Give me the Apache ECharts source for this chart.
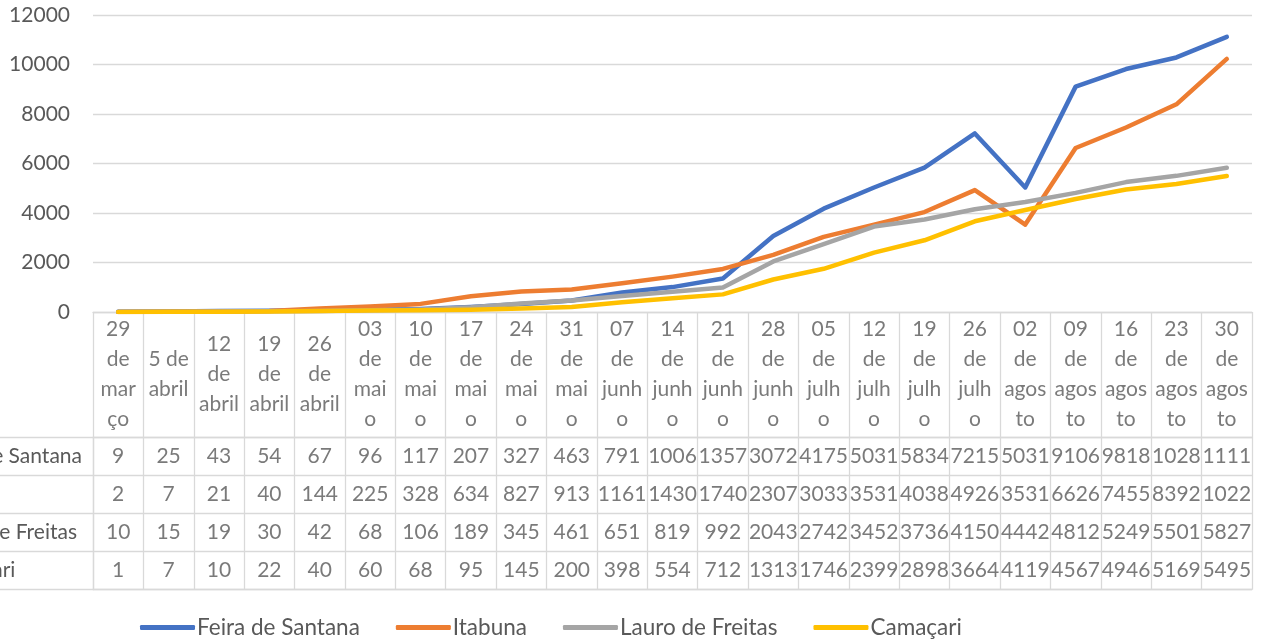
<!DOCTYPE html>
<html>
<head>
<meta charset="utf-8">
<script src="https://cdn.jsdelivr.net/npm/echarts@6/dist/echarts.min.js"></script>
<style>html,body{margin:0;padding:0;background:#fff}#c{width:1264px;height:639px}</style>
</head>
<body>
<div id="c"></div>
<script>
// Category (tick) labels, wrapped as in the reference data table
const categories = [
  "29\nde\nmar\nço", "5 de\nabril", "12\nde\nabril", "19\nde\nabril", "26\nde\nabril",
  "03\nde\nmai\no", "10\nde\nmai\no", "17\nde\nmai\no", "24\nde\nmai\no", "31\nde\nmai\no",
  "07\nde\njunh\no", "14\nde\njunh\no", "21\nde\njunh\no", "28\nde\njunh\no",
  "05\nde\njulh\no", "12\nde\njulh\no", "19\nde\njulh\no", "26\nde\njulh\no",
  "02\nde\nagos\nto", "09\nde\nagos\nto", "16\nde\nagos\nto", "23\nde\nagos\nto", "30\nde\nagos\nto"
];
const seriesNames = ["Feira de Santana", "Itabuna", "Lauro de Freitas", "Camaçari"];
const feiraDeSantana = [9, 25, 43, 54, 67, 96, 117, 207, 327, 463, 791, 1006, 1357, 3072, 4175, 5031, 5834, 7215, 5031, 9106, 9818, 10285, 11115];
const itabuna = [2, 7, 21, 40, 144, 225, 328, 634, 827, 913, 1161, 1430, 1740, 2307, 3033, 3531, 4038, 4926, 3531, 6626, 7455, 8392, 10225];
const lauroDeFreitas = [10, 15, 19, 30, 42, 68, 106, 189, 345, 461, 651, 819, 992, 2043, 2742, 3452, 3736, 4150, 4442, 4812, 5249, 5501, 5827];
const camacari = [1, 7, 10, 22, 40, 60, 68, 95, 145, 200, 398, 554, 712, 1313, 1746, 2399, 2898, 3664, 4119, 4567, 4946, 5169, 5495];
const yTicks = [0, 2000, 4000, 6000, 8000, 10000, 12000];

const values = [feiraDeSantana, itabuna, lauroDeFreitas, camacari];
const colors = ["#4472C4", "#ED7D31", "#A5A5A5", "#FFC000"];
const FONT = "Lato";
const TXT = "#595959";
const GRID = "#D9D9D9";

const chart = echarts.init(document.getElementById('c'), null, {renderer: 'canvas'});

const lineSeries = seriesNames.map((name, k) => ({
  name: name, type: 'line', xAxisIndex: 0, yAxisIndex: 0,
  data: values[k], showSymbol: false, symbol: 'none', smooth: false,
  color: colors[k],
  lineStyle: {color: colors[k], width: 4.5, cap: 'round', join: 'round'}
}));

const headerSeries = {
  type: 'scatter', xAxisIndex: 1, yAxisIndex: 1, silent: true, symbolSize: 0,
  data: categories.map((c, i) => [i, 0.5]),
  label: {show: true, position: 'inside', color: TXT, fontFamily: FONT, fontSize: 21, lineHeight: 30,
    align: 'center', verticalAlign: 'middle',
    formatter: p => categories[p.dataIndex]}
};

const bodySeries = values.map((arr, k) => ({
  type: 'scatter', xAxisIndex: 2, yAxisIndex: 2, silent: true, symbolSize: 0,
  data: arr.map((v, i) => [i, k, v]),
  label: {show: true, position: 'inside', color: TXT, fontFamily: FONT, fontSize: 21,
    align: 'center', verticalAlign: 'middle', width: 50, overflow: 'truncate', ellipsis: '',
    formatter: p => String(p.value[2])}
}));

const gridBase = {left: 93, right: 12, containLabel: false, outerBoundsMode: 'none'};

chart.setOption({
  animation: false,
  backgroundColor: '#fff',
  textStyle: {fontFamily: FONT},
  grid: [
    Object.assign({top: 15, bottom: 327}, gridBase),
    Object.assign({top: 312, bottom: 202}, gridBase),
    Object.assign({top: 437, bottom: 49.5}, gridBase)
  ],
  xAxis: [
    {type: 'category', gridIndex: 0, data: categories, boundaryGap: true,
      axisLine: {show: true, lineStyle: {color: GRID, width: 1.3}},
      axisTick: {show: false}, axisLabel: {show: false}, splitLine: {show: false}},
    {type: 'category', gridIndex: 1, data: categories, boundaryGap: true,
      axisLine: {show: true, lineStyle: {color: GRID, width: 1.3}},
      axisTick: {show: false}, axisLabel: {show: false},
      splitLine: {show: true, lineStyle: {color: GRID, width: 1.3}}},
    {type: 'category', gridIndex: 2, data: categories, boundaryGap: true,
      axisLine: {show: true, lineStyle: {color: GRID, width: 1.3}},
      axisTick: {show: false}, axisLabel: {show: false},
      splitLine: {show: true, lineStyle: {color: GRID, width: 1.3}}}
  ],
  yAxis: [
    {type: 'value', gridIndex: 0, min: yTicks[0], max: yTicks[yTicks.length - 1], interval: yTicks[1] - yTicks[0],
      axisLine: {show: false}, axisTick: {show: false},
      axisLabel: {color: TXT, fontFamily: FONT, fontSize: 21, margin: 23, formatter: v => String(v)},
      splitLine: {show: true, lineStyle: {color: GRID, width: 1.3}}},
    {type: 'value', gridIndex: 1, min: 0, max: 1, show: false},
    {type: 'category', gridIndex: 2, data: seriesNames, inverse: true, boundaryGap: true,
      axisLine: {show: true, lineStyle: {color: GRID, width: 1.3}},
      axisTick: {show: true, length: 93, lineStyle: {color: GRID, width: 1.3}},
      axisLabel: {color: TXT, fontFamily: FONT, fontSize: 21, align: 'left', margin: 163},
      splitLine: {show: true, lineStyle: {color: GRID, width: 1.3}}}
  ],
  legend: {
    data: seriesNames, left: 135, top: 611, icon: 'roundRect', itemWidth: 55, itemHeight: 5,
    itemGap: 36, textStyle: {color: TXT, fontFamily: FONT, fontSize: 22.5, padding: [0, 0, 0, -3]}
  },
  series: [...lineSeries, headerSeries, ...bodySeries]
});
</script>
</body>
</html>
